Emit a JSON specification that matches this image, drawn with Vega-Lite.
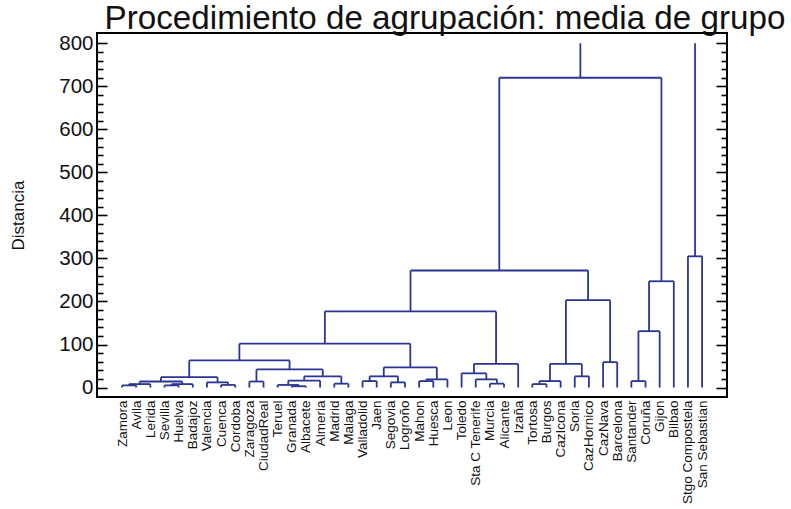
{
  "$schema": "https://vega.github.io/schema/vega-lite/v6.json",
  "width": 630,
  "height": 364,
  "autosize": "none",
  "padding": {"left": 97, "top": 33, "right": 64, "bottom": 112},
  "background": "white",
  "config": {
    "view": {"stroke": "black", "strokeWidth": 2},
    "font": "Liberation Sans"
  },
  "title": {
    "text": "Procedimiento de agrupación: media de grupo",
    "fontSize": 33.2,
    "fontWeight": "normal",
    "font": "Liberation Sans",
    "color": "#111111",
    "anchor": "middle",
    "frame": "group",
    "baseline": "alphabetic",
    "offset": -29,
    "dx": 33
  },
  "data": {
    "values": [
      {"xl": 1, "hl": 0, "xr": 2, "hr": 0, "h": 5},
      {"xl": 1.5, "hl": 5, "xr": 3, "hr": 0, "h": 8},
      {"xl": 4, "hl": 0, "xr": 5, "hr": 0, "h": 5},
      {"xl": 4.5, "hl": 5, "xr": 6, "hr": 0, "h": 8},
      {"xl": 2.25, "hl": 8, "xr": 5.25, "hr": 8, "h": 14},
      {"xl": 8, "hl": 0, "xr": 9, "hr": 0, "h": 6},
      {"xl": 7, "hl": 0, "xr": 8.5, "hr": 6, "h": 12},
      {"xl": 3.75, "hl": 14, "xr": 7.75, "hr": 12, "h": 24},
      {"xl": 10, "hl": 0, "xr": 11, "hr": 0, "h": 14},
      {"xl": 13, "hl": 0, "xr": 14, "hr": 0, "h": 3},
      {"xl": 12, "hl": 0, "xr": 13.5, "hr": 3, "h": 6},
      {"xl": 12.75, "hl": 6, "xr": 15, "hr": 0, "h": 16},
      {"xl": 16, "hl": 0, "xr": 17, "hr": 0, "h": 9},
      {"xl": 13.875, "hl": 16, "xr": 16.5, "hr": 9, "h": 26},
      {"xl": 10.5, "hl": 14, "xr": 15.1875, "hr": 26, "h": 42},
      {"xl": 5.75, "hl": 24, "xr": 12.84, "hr": 42, "h": 63},
      {"xl": 18, "hl": 0, "xr": 19, "hr": 0, "h": 15},
      {"xl": 20, "hl": 0, "xr": 21, "hr": 0, "h": 12},
      {"xl": 18.5, "hl": 15, "xr": 20.5, "hr": 12, "h": 26},
      {"xl": 22, "hl": 0, "xr": 23, "hr": 0, "h": 15},
      {"xl": 22.5, "hl": 15, "xr": 24, "hr": 0, "h": 19},
      {"xl": 19.5, "hl": 26, "xr": 23.25, "hr": 19, "h": 47},
      {"xl": 9.295, "hl": 63, "xr": 21.375, "hr": 47, "h": 102},
      {"xl": 27, "hl": 0, "xr": 28, "hr": 0, "h": 9},
      {"xl": 26, "hl": 0, "xr": 27.5, "hr": 9, "h": 19},
      {"xl": 25, "hl": 0, "xr": 26.75, "hr": 19, "h": 33},
      {"xl": 25.875, "hl": 33, "xr": 29, "hr": 0, "h": 55},
      {"xl": 15.335, "hl": 102, "xr": 27.4375, "hr": 55, "h": 177},
      {"xl": 30, "hl": 0, "xr": 31, "hr": 0, "h": 8},
      {"xl": 30.5, "hl": 8, "xr": 32, "hr": 0, "h": 15},
      {"xl": 33, "hl": 0, "xr": 34, "hr": 0, "h": 26},
      {"xl": 31.25, "hl": 15, "xr": 33.5, "hr": 26, "h": 55},
      {"xl": 35, "hl": 0, "xr": 36, "hr": 0, "h": 59},
      {"xl": 32.375, "hl": 55, "xr": 35.5, "hr": 59, "h": 203},
      {"xl": 21.39, "hl": 177, "xr": 33.94, "hr": 203, "h": 272},
      {"xl": 37, "hl": 0, "xr": 38, "hr": 0, "h": 15},
      {"xl": 37.5, "hl": 15, "xr": 39, "hr": 0, "h": 131},
      {"xl": 38.25, "hl": 131, "xr": 40, "hr": 0, "h": 247},
      {"xl": 27.665, "hl": 272, "xr": 39.125, "hr": 247, "h": 720},
      {"xl": 41, "hl": 0, "xr": 42, "hr": 0, "h": 305},
      {"xl": 33.395, "hl": 720, "xr": 41.5, "hr": 305, "h": 800}
    ]
  },
  "resolve": {"axis": {"y": "independent"}},
  "layer": [
    {
      "transform": [{"filter": "datum.h < 800"}],
      "mark": {"type": "rule", "color": "#2b3594", "strokeWidth": 1.8},
      "encoding": {
        "x": {
          "field": "xl", "type": "quantitative",
          "scale": {"domain": [-0.77, 43.76], "nice": false, "zero": false},
          "axis": {
            "title": null,
            "values": [1,2,3,4,5,6,7,8,9,10,11,12,13,14,15,16,17,18,19,20,21,22,23,24,25,26,27,28,29,30,31,32,33,34,35,36,37,38,39,40,41,42],
            "labelExpr": "['Zamora','Avila','Lerida','Sevilla','Huelva','Badajoz','Valencia','Cuenca','Cordoba','Zaragoza','CiudadReal','Teruel','Granada','Albacete','Almeria','Madrid','Malaga','Valladolid','Jaen','Segovia','Logroño','Mahon','Huesca','Leon','Toledo','Sta C Tenerife','Murcia','Alicante','Izaña','Tortosa','Burgos','CazIcona','Soria','CazHornico','CazNava','Barcelona','Santander','Coruña','Gijon','Bilbao','Stgo Compostela','San Sebastian'][datum.value - 1]",
            "labelAngle": -90,
            "labelAlign": "right",
            "labelBaseline": "middle",
            "labelFont": "Liberation Sans",
            "labelFontSize": 13.5,
            "labelColor": "#111111",
            "labelPadding": 3,
            "labelOverlap": false,
            "labelFlush": false,
            "labelBound": false,
            "ticks": false,
            "domain": false,
            "grid": false
          }
        },
        "x2": {"field": "xr"},
        "y": {
          "field": "h", "type": "quantitative",
          "scale": {"domain": [-22, 824], "nice": false, "zero": false},
          "axis": {
            "orient": "left",
            "title": "Distancia",
            "titleFont": "Liberation Sans",
            "titleFontSize": 17,
            "titleFontWeight": "normal",
            "titleColor": "#111111",
            "titleAngle": -90,
            "titleAlign": "center",
            "titleBaseline": "middle",
            "titleX": -79,
            "titleY": 182,
            "values": [0,20,40,60,80,100,120,140,160,180,200,220,240,260,280,300,320,340,360,380,400,420,440,460,480,500,520,540,560,580,600,620,640,660,680,700,720,740,760,780,800],
            "labelExpr": "datum.value % 100 == 0 ? datum.label : ''",
            "labelFont": "Liberation Sans",
            "labelFontSize": 20.5,
            "labelColor": "#111111",
            "labelPadding": 14,
            "labelOverlap": false,
            "labelFlush": false,
            "labelBound": false,
            "format": "d",
            "tickColor": "black",
            "tickWidth": 1.6,
            "tickSize": {"condition": {"test": "datum.value % 100 == 0", "value": -10}, "value": -6},
            "domain": false,
            "grid": false
          }
        }
      }
    },
    {
      "mark": {"type": "rule", "color": "#2b3594", "strokeWidth": 1.8},
      "encoding": {
        "x": {
          "field": "xl", "type": "quantitative",
          "scale": {"domain": [-0.77, 43.76], "nice": false, "zero": false},
          "axis": {
            "title": null,
            "values": [1,2,3,4,5,6,7,8,9,10,11,12,13,14,15,16,17,18,19,20,21,22,23,24,25,26,27,28,29,30,31,32,33,34,35,36,37,38,39,40,41,42],
            "labelExpr": "['Zamora','Avila','Lerida','Sevilla','Huelva','Badajoz','Valencia','Cuenca','Cordoba','Zaragoza','CiudadReal','Teruel','Granada','Albacete','Almeria','Madrid','Malaga','Valladolid','Jaen','Segovia','Logroño','Mahon','Huesca','Leon','Toledo','Sta C Tenerife','Murcia','Alicante','Izaña','Tortosa','Burgos','CazIcona','Soria','CazHornico','CazNava','Barcelona','Santander','Coruña','Gijon','Bilbao','Stgo Compostela','San Sebastian'][datum.value - 1]",
            "labelAngle": -90,
            "labelAlign": "right",
            "labelBaseline": "middle",
            "labelFont": "Liberation Sans",
            "labelFontSize": 13.5,
            "labelColor": "#111111",
            "labelPadding": 3,
            "labelOverlap": false,
            "labelFlush": false,
            "labelBound": false,
            "ticks": false,
            "domain": false,
            "grid": false
          }
        },
        "y": {
          "field": "hl", "type": "quantitative",
          "scale": {"domain": [-22, 824], "nice": false, "zero": false},
          "axis": {
            "orient": "right",
            "title": null,
            "labels": false,
            "values": [0,20,40,60,80,100,120,140,160,180,200,220,240,260,280,300,320,340,360,380,400,420,440,460,480,500,520,540,560,580,600,620,640,660,680,700,720,740,760,780,800],
            "tickColor": "black",
            "tickWidth": 1.6,
            "tickSize": {"condition": {"test": "datum.value % 100 == 0", "value": -11}, "value": -6},
            "domain": false,
            "grid": false
          }
        },
        "y2": {"field": "h"}
      }
    },
    {
      "mark": {"type": "rule", "color": "#2b3594", "strokeWidth": 1.8},
      "encoding": {
        "x": {
          "field": "xr", "type": "quantitative",
          "scale": {"domain": [-0.77, 43.76], "nice": false, "zero": false},
          "axis": {
            "title": null,
            "values": [1,2,3,4,5,6,7,8,9,10,11,12,13,14,15,16,17,18,19,20,21,22,23,24,25,26,27,28,29,30,31,32,33,34,35,36,37,38,39,40,41,42],
            "labelExpr": "['Zamora','Avila','Lerida','Sevilla','Huelva','Badajoz','Valencia','Cuenca','Cordoba','Zaragoza','CiudadReal','Teruel','Granada','Albacete','Almeria','Madrid','Malaga','Valladolid','Jaen','Segovia','Logroño','Mahon','Huesca','Leon','Toledo','Sta C Tenerife','Murcia','Alicante','Izaña','Tortosa','Burgos','CazIcona','Soria','CazHornico','CazNava','Barcelona','Santander','Coruña','Gijon','Bilbao','Stgo Compostela','San Sebastian'][datum.value - 1]",
            "labelAngle": -90,
            "labelAlign": "right",
            "labelBaseline": "middle",
            "labelFont": "Liberation Sans",
            "labelFontSize": 13.5,
            "labelColor": "#111111",
            "labelPadding": 3,
            "labelOverlap": false,
            "labelFlush": false,
            "labelBound": false,
            "ticks": false,
            "domain": false,
            "grid": false
          }
        },
        "y": {
          "field": "hr", "type": "quantitative",
          "scale": {"domain": [-22, 824], "nice": false, "zero": false},
          "axis": null
        },
        "y2": {"field": "h"}
      }
    }
  ]
}
